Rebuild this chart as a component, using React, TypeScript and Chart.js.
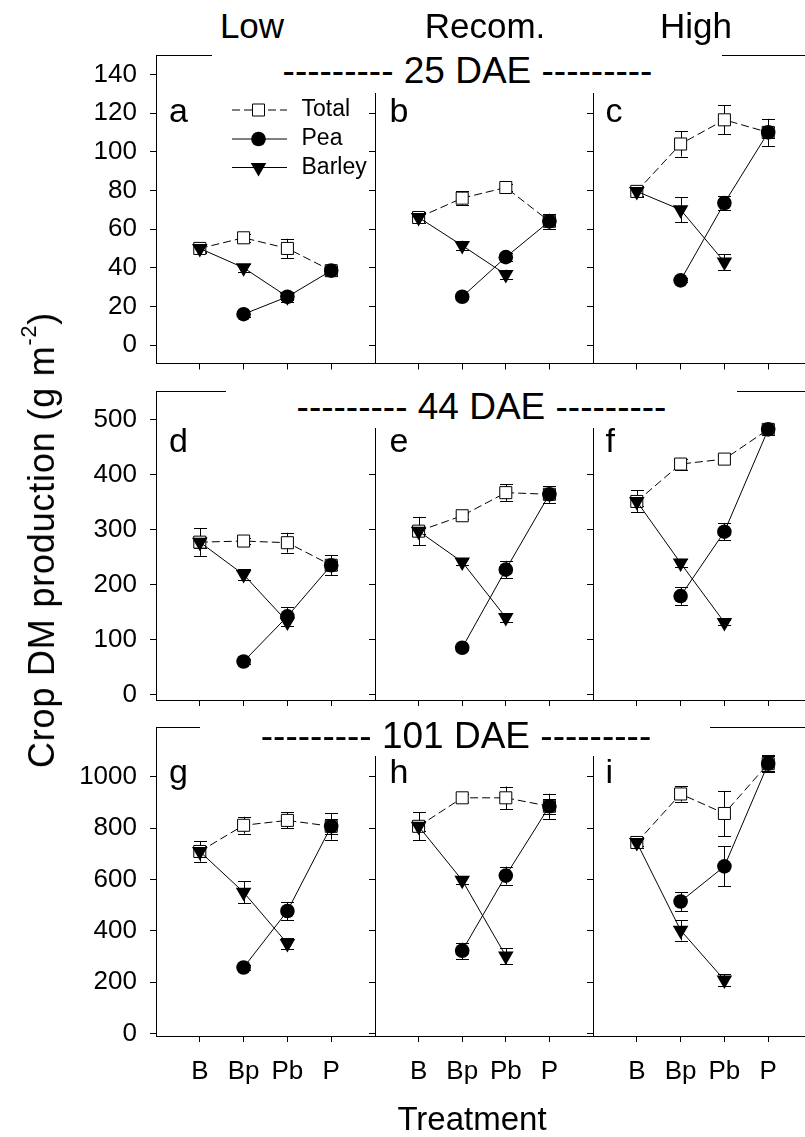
import React, { useEffect, useRef } from 'react';
import { Chart, registerables } from 'chart.js';

Chart.register(...registerables);

const FONT = '"Liberation Sans", Arial, Helvetica, sans-serif';

// ---------- categories / labels ----------
const TREATMENTS = ['B', 'Bp', 'Pb', 'P'];
const TREATMENT_POS = [1, 2, 3, 4];
const LEVELS = ['Low', 'Recom.', 'High'];
const STAGES = ['25 DAE', '44 DAE', '101 DAE'];
const PANEL_LETTERS = ['a', 'b', 'c', 'd', 'e', 'f', 'g', 'h', 'i'];
const SERIES_NAMES = ['Total', 'Pea', 'Barley'];

// ---------- tick labels ----------
const TICKS_25 = [0, 20, 40, 60, 80, 100, 120, 140];
const TICKS_44 = [0, 100, 200, 300, 400, 500];
const TICKS_101 = [0, 200, 400, 600, 800, 1000];

// ---------- 25 DAE ----------
const aTotal = [50, 55.5, 50, 38.5];
const aTotalErr = [2.5, 2, 5, 2];
const aPea = [null, 16, 25, 38.5];
const aPeaErr = [0, 1.5, 2.5, 2.5];
const aBarley = [50, 40, 25, null];
const aBarleyErr = [2, 2, 1.5, 0];

const bTotal = [66, 76, 81.5, 64];
const bTotalErr = [3, 3.5, 2, 2];
const bPea = [null, 25, 45.5, 64];
const bPeaErr = [0, 1, 2, 4];
const bBarley = [66, 51.5, 36.5, null];
const bBarleyErr = [2, 2.5, 2.5, 0];

const cTotal = [79.5, 104, 116.5, 110];
const cTotalErr = [3, 6.5, 7.5, 3];
const cPea = [null, 33.5, 73.5, 110];
const cPeaErr = [0, 1, 3.5, 7];
const cBarley = [79.5, 70, 43, null];
const cBarleyErr = [2.5, 6.5, 4, 0];

// ---------- 44 DAE ----------
const dTotal = [277, 279, 276, 235];
const dTotalErr = [25, 5, 18, 8];
const dPea = [null, 60, 142, 235];
const dPeaErr = [0, 4, 17, 18];
const dBarley = [277, 218, 132, null];
const dBarleyErr = [10, 10, 8, 0];

const eTotal = [297, 325, 367, 364];
const eTotalErr = [26, 5, 15, 15];
const ePea = [null, 85, 227, 364];
const ePeaErr = [0, 4, 16, 15];
const eBarley = [297, 241, 140, null];
const eBarleyErr = [6, 6, 8, 0];

const fTotal = [351, 419, 428, 482];
const fTotalErr = [20, 10, 8, 10];
const fPea = [null, 179, 296, 482];
const fPeaErr = [0, 16, 15, 10];
const fBarley = [351, 239, 131, null];
const fBarleyErr = [8, 8, 5, 0];

// ---------- 101 DAE ----------
const gTotal = [709, 811, 830, 807];
const gTotalErr = [40, 33, 31, 30];
const gPea = [null, 257, 477, 807];
const gPeaErr = [0, 10, 35, 52];
const gBarley = [709, 550, 350, null];
const gBarleyErr = [20, 43, 20, 0];

const hTotal = [807, 918, 918, 885];
const hTotalErr = [55, 15, 44, 30];
const hPea = [null, 322, 615, 885];
const hPeaErr = [0, 32, 35, 49];
const hBarley = [807, 597, 302, null];
const hBarleyErr = [20, 15, 31, 0];

const iTotal = [744, 933, 857, 1051];
const iTotalErr = [20, 30, 88, 30];
const iPea = [null, 514, 651, 1051];
const iPeaErr = [0, 37, 78, 34];
const iBarley = [744, 402, 208, null];
const iBarleyErr = [15, 40, 24, 0];

type Spec = {
  total: (number | null)[]; totalErr: number[];
  pea: (number | null)[]; peaErr: number[];
  barley: (number | null)[]; barleyErr: number[];
};

const PANELS: Spec[] = [
  { total: aTotal, totalErr: aTotalErr, pea: aPea, peaErr: aPeaErr, barley: aBarley, barleyErr: aBarleyErr },
  { total: bTotal, totalErr: bTotalErr, pea: bPea, peaErr: bPeaErr, barley: bBarley, barleyErr: bBarleyErr },
  { total: cTotal, totalErr: cTotalErr, pea: cPea, peaErr: cPeaErr, barley: cBarley, barleyErr: cBarleyErr },
  { total: dTotal, totalErr: dTotalErr, pea: dPea, peaErr: dPeaErr, barley: dBarley, barleyErr: dBarleyErr },
  { total: eTotal, totalErr: eTotalErr, pea: ePea, peaErr: ePeaErr, barley: eBarley, barleyErr: eBarleyErr },
  { total: fTotal, totalErr: fTotalErr, pea: fPea, peaErr: fPeaErr, barley: fBarley, barleyErr: fBarleyErr },
  { total: gTotal, totalErr: gTotalErr, pea: gPea, peaErr: gPeaErr, barley: gBarley, barleyErr: gBarleyErr },
  { total: hTotal, totalErr: hTotalErr, pea: hPea, peaErr: hPeaErr, barley: hBarley, barleyErr: hBarleyErr },
  { total: iTotal, totalErr: iTotalErr, pea: iPea, peaErr: iPeaErr, barley: iBarley, barleyErr: iBarleyErr },
];

// ---------- layout ----------
const ROWS = [
  { top: 56, height: 307.5, min: -9.5, max: 149.5, ticks: TICKS_25 },
  { top: 392, height: 308, min: -10, max: 550, ticks: TICKS_44 },
  { top: 728, height: 308, min: -10, max: 1190, ticks: TICKS_101 },
];
const COLS = [
  { left: 156, width: 219 },
  { left: 375, width: 218 },
  { left: 593, width: 219 },
];
// white title boxes: [left, right, top, bottom], title centre [x, y]
const TITLE_BOX = [
  { l: 212, r: 722, t: 48, b: 93, cx: 467.5, cy: 70 },
  { l: 226, r: 737, t: 384, b: 428, cx: 481.5, cy: 406 },
  { l: 200, r: 710, t: 716, b: 756, cx: 456, cy: 735 },
];
const LETTER_BASE = [121.5, 451.5, 782.5];
const LETTER_X = [170, 390.5, 606.5];
const HEADER_X = [252, 485, 696];

const DASH = [8, 4];
const TRI_R = 9;

function drawMarker(ctx: CanvasRenderingContext2D, kind: number, x: number, y: number) {
  ctx.beginPath();
  if (kind === 0) {
    ctx.rect(x - 6, y - 6, 12, 12);
    ctx.fillStyle = '#fff';
    ctx.fill();
    ctx.stroke();
  } else if (kind === 1) {
    ctx.arc(x, y, 7.3, 0, Math.PI * 2);
    ctx.fillStyle = '#000';
    ctx.fill();
  } else {
    const r = TRI_R;
    ctx.moveTo(x, y + r);
    ctx.lineTo(x - 0.866 * r, y - 0.5 * r);
    ctx.lineTo(x + 0.866 * r, y - 0.5 * r);
    ctx.closePath();
    ctx.fillStyle = '#000';
    ctx.fill();
  }
}

function Panel({ idx }: { idx: number }) {
  const ref = useRef<HTMLCanvasElement>(null);
  const row = Math.floor(idx / 3);
  const col = idx % 3;
  const R = ROWS[row];
  const C = COLS[col];
  const yAxisW = col === 0 ? 100 : 8;
  const padTop = 6;
  const padRight = 3;
  const cw = yAxisW + C.width + padRight;
  const ch = Math.ceil(padTop + R.height + (row === 2 ? 60 : 8));
  const xAxisH = ch - padTop - R.height;
  const left = C.left - yAxisW;
  const top = R.top - padTop;

  useEffect(() => {
    const spec = PANELS[idx];
    const vals = [spec.total, spec.pea, spec.barley];
    const errs = [spec.totalErr, spec.peaErr, spec.barleyErr];
    const toPts = (arr: (number | null)[]) => TREATMENT_POS.map((x, i) => ({ x, y: arr[i] }));

    const plugin = {
      id: 'panelExtras',
      beforeDatasetsDraw(chart: any) {
        const ctx = chart.ctx as CanvasRenderingContext2D;
        const ys = chart.scales.y;
        ctx.save();
        ctx.strokeStyle = '#000';
        ctx.lineWidth = 1;
        vals.forEach((arr, di) => {
          const meta = chart.getDatasetMeta(di);
          arr.forEach((v, i) => {
            const e = errs[di][i];
            if (v == null || !e) return;
            const x = Math.round(meta.data[i].x) + 0.5;
            const y1 = ys.getPixelForValue(v + e);
            const y2 = ys.getPixelForValue(v - e);
            ctx.beginPath();
            ctx.moveTo(x, y1);
            ctx.lineTo(x, y2);
            ctx.moveTo(x - 6.5, Math.round(y1) + 0.5);
            ctx.lineTo(x + 6.5, Math.round(y1) + 0.5);
            ctx.moveTo(x - 6.5, Math.round(y2) + 0.5);
            ctx.lineTo(x + 6.5, Math.round(y2) + 0.5);
            ctx.stroke();
          });
        });
        ctx.restore();
      },
      afterDraw(chart: any) {
        const ctx = chart.ctx as CanvasRenderingContext2D;
        const a = chart.chartArea;
        ctx.save();
        ctx.strokeStyle = '#000';
        ctx.lineWidth = 1;
        const ty = Math.round(a.top) - 0.5;
        ctx.beginPath();
        ctx.moveTo(a.left, ty);
        ctx.lineTo(a.right, ty);
        ctx.stroke();
        if (idx === 0) {
          const rowsY = [54, 83, 111.5];
          SERIES_NAMES.forEach((name, k) => {
            const y = a.top + rowsY[k];
            ctx.beginPath();
            ctx.setLineDash(k === 0 ? DASH : []);
            ctx.moveTo(a.left + 76, y);
            ctx.lineTo(a.left + 131, y);
            ctx.stroke();
            ctx.setLineDash([]);
            drawMarker(ctx, k, a.left + 102.5, y);
            ctx.fillStyle = '#000';
            ctx.font = `23px ${FONT}`;
            ctx.textBaseline = 'middle';
            ctx.textAlign = 'left';
            ctx.fillText(name, a.left + 145.5, y);
          });
        }
        ctx.restore();
      },
    };

    const common = { borderColor: '#000', borderWidth: 1, fill: false, tension: 0, pointBorderColor: '#000', pointBorderWidth: 1 };
    const chart = new Chart(ref.current as HTMLCanvasElement, {
      type: 'line',
      data: {
        datasets: [
          {
            ...common, label: SERIES_NAMES[0], data: toPts(spec.total), borderDash: DASH,
            pointStyle: 'rect', pointRadius: 8.5, pointBackgroundColor: '#fff', order: 3,
          },
          {
            ...common, label: SERIES_NAMES[1], data: toPts(spec.pea),
            pointStyle: 'circle', pointRadius: 7.3, pointBackgroundColor: '#000', pointBorderWidth: 0, order: 2,
          },
          {
            ...common, label: SERIES_NAMES[2], data: toPts(spec.barley),
            pointStyle: 'triangle', pointRotation: 180, pointRadius: TRI_R, pointBackgroundColor: '#000', pointBorderWidth: 0, order: 1,
          },
        ] as any,
      },
      options: {
        responsive: false,
        animation: false,
        devicePixelRatio: 1,
        events: [],
        layout: { padding: { top: padTop, right: padRight, left: 0, bottom: 0 }, autoPadding: false },
        plugins: { legend: { display: false }, tooltip: { enabled: false } },
        scales: {
          x: {
            type: 'linear', min: 0, max: 5,
            afterBuildTicks: (s: any) => { s.ticks = TREATMENT_POS.map((v) => ({ value: v })); },
            afterFit: (s: any) => {
              s.height = xAxisH;
              s.paddingLeft = 0; s.paddingRight = 0; s.paddingTop = 0; s.paddingBottom = 0;
            },
            grid: { drawOnChartArea: false, drawTicks: true, tickLength: 6, color: '#000', lineWidth: 1 },
            border: { display: true, color: '#000', width: 1 },
            ticks: {
              display: row === 2, autoSkip: false, maxRotation: 0, padding: 14, color: '#000',
              font: { size: 26, family: FONT },
              callback: (v: any) => TREATMENTS[TREATMENT_POS.indexOf(Number(v))] ?? '',
            },
          },
          y: {
            type: 'linear', min: R.min, max: R.max,
            afterBuildTicks: (s: any) => { s.ticks = R.ticks.map((v) => ({ value: v })); },
            afterFit: (s: any) => {
              s.width = yAxisW;
              s.paddingLeft = 0; s.paddingRight = 0; s.paddingTop = 0; s.paddingBottom = 0;
            },
            grid: { drawOnChartArea: false, drawTicks: true, tickLength: 6, color: '#000', lineWidth: 1 },
            border: { display: true, color: '#000', width: 1 },
            ticks: {
              display: col === 0, autoSkip: false, padding: 13, color: '#000',
              font: { size: 26, family: FONT },
              callback: (v: any) => String(v),
            },
          },
        },
      } as any,
      plugins: [plugin],
    });
    return () => chart.destroy();
  }, []);

  return (
    <canvas
      ref={ref}
      width={cw}
      height={ch}
      style={{ position: 'absolute', left, top, width: cw, height: ch, display: 'block' }}
    />
  );
}

const centered = (x: number, y: number, size: number): React.CSSProperties => ({
  position: 'absolute', left: x, top: y, transform: 'translate(-50%, -50%)',
  fontSize: size, lineHeight: 1, whiteSpace: 'nowrap', fontFamily: FONT, color: '#000',
});

export default function App() {
  return (
    <div style={{ position: 'absolute', left: 0, top: 0, width: 805, height: 1137, overflow: 'hidden', background: '#fff', fontFamily: FONT }}>
      {PANELS.map((_, i) => <Panel key={i} idx={i} />)}
      {TITLE_BOX.map((b, r) => (
        <React.Fragment key={'t' + r}>
          <div style={{ position: 'absolute', left: b.l, top: b.t, width: b.r - b.l, height: b.b - b.t, background: '#fff' }} />
          <div style={centered(b.cx, b.cy, 37)}>{'--------- ' + STAGES[r] + ' ---------'}</div>
        </React.Fragment>
      ))}
      {LEVELS.map((lv, c) => (
        <div key={'h' + c} style={centered(HEADER_X[c], 25, 35)}>{lv}</div>
      ))}
      {PANEL_LETTERS.map((L, i) => {
        const r = Math.floor(i / 3);
        const c = i % 3;
        return (
          <div key={'l' + i} style={{ position: 'absolute', left: LETTER_X[c] - 1, top: LETTER_BASE[r] - 0.8465 * 34, fontSize: 34, lineHeight: 1, fontFamily: FONT, color: '#000' }}>{L}</div>
        );
      })}
      <div style={{ ...centered(42, 540, 36), letterSpacing: 0.8, transform: 'translate(-50%, -50%) rotate(-90deg)' }}>
        Crop DM production (g m<span style={{ fontSize: '0.6em', position: 'relative', top: '-0.85em' }}>-2</span>)
      </div>
      <div style={centered(472, 1118, 33)}>Treatment</div>
    </div>
  );
}
